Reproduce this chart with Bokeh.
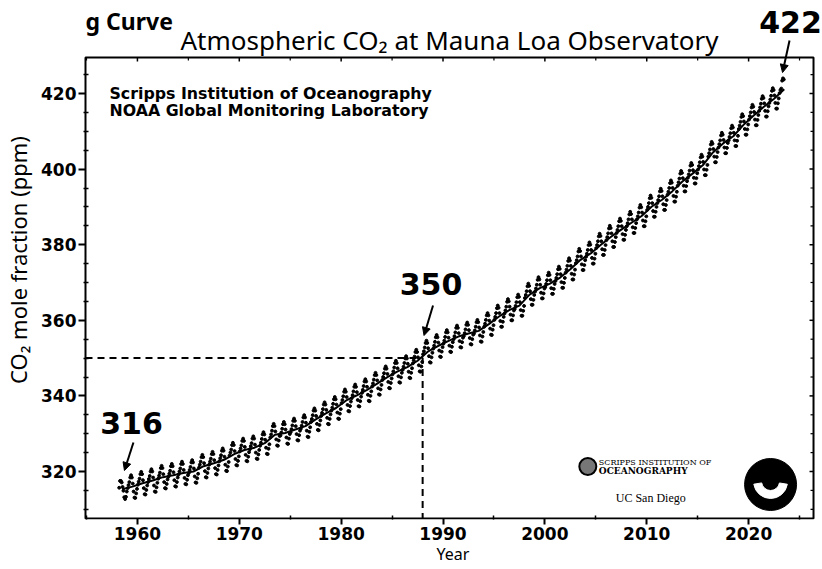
from bokeh.plotting import figure
from bokeh.models import (Range1d, Label, Arrow, NormalHead, FixedTicker)
from bokeh.embed import file_html
from bokeh.resources import INLINE

# ---------------- data (monthly mean CO2, ppm) ----------------
start_year = 1958
start_month = 3
co2_1950s = [315.7, 317.5, 317.5, 317.1, 315.9, 314.9, 313.2, 312.7, 313.3, 314.7,
             315.6, 316.4, 317.2, 318.4, 319.0, 318.4, 316.8, 314.7, 313.1, 313.0, 314.2, 315.4]
co2_1960s = [316.5, 317.3, 318.1, 319.3, 319.9, 319.3, 317.7, 315.6, 314.0, 313.9, 315.1, 316.3,
             317.2, 318.0, 318.8, 320.0, 320.6, 320.0, 318.4, 316.3, 314.7, 314.6, 315.8, 317.0,
             318.1, 318.9, 319.7, 320.9, 321.5, 320.9, 319.3, 317.2, 315.6, 315.5, 316.7, 317.9,
             318.6, 319.4, 320.2, 321.4, 322.0, 321.4, 319.8, 317.7, 316.1, 316.0, 317.2, 318.4,
             319.2, 320.0, 320.8, 322.0, 322.6, 322.0, 320.4, 318.3, 316.7, 316.6, 317.8, 319.0,
             319.6, 320.4, 321.2, 322.4, 323.0, 322.4, 320.8, 318.7, 317.1, 317.0, 318.2, 319.4,
             321.0, 321.8, 322.6, 323.8, 324.4, 323.8, 322.2, 320.1, 318.5, 318.4, 319.6, 320.8,
             321.8, 322.6, 323.4, 324.6, 325.2, 324.6, 323.0, 320.9, 319.3, 319.2, 320.4, 321.6,
             322.7, 323.5, 324.3, 325.5, 326.1, 325.5, 323.9, 321.8, 320.2, 320.1, 321.3, 322.5,
             324.2, 325.0, 325.8, 327.0, 327.6, 327.0, 325.4, 323.3, 321.7, 321.6, 322.8, 324.0]
co2_1970s = [325.3, 326.1, 326.9, 328.1, 328.7, 328.1, 326.5, 324.4, 322.8, 322.7, 323.9, 325.1,
             325.9, 326.7, 327.5, 328.7, 329.3, 328.7, 327.1, 325.0, 323.4, 323.3, 324.5, 325.7,
             326.8, 327.6, 328.6, 329.8, 330.4, 329.8, 328.4, 326.3, 324.7, 324.6, 326.0, 327.2,
             329.0, 329.8, 330.8, 332.0, 332.6, 332.0, 330.6, 328.5, 326.9, 326.8, 328.2, 329.4,
             329.5, 330.3, 331.3, 332.5, 333.1, 332.5, 331.1, 329.0, 327.4, 327.3, 328.7, 329.9,
             330.4, 331.2, 332.2, 333.4, 334.0, 333.4, 332.0, 329.9, 328.3, 328.2, 329.6, 330.8,
             331.3, 332.1, 333.1, 334.3, 334.9, 334.3, 332.9, 330.8, 329.2, 329.1, 330.5, 331.7,
             333.1, 333.9, 334.9, 336.1, 336.7, 336.1, 334.7, 332.6, 331.0, 330.9, 332.3, 333.5,
             334.7, 335.5, 336.5, 337.7, 338.3, 337.7, 336.3, 334.2, 332.6, 332.5, 333.9, 335.1,
             336.1, 336.9, 337.9, 339.1, 339.7, 339.1, 337.7, 335.6, 334.0, 333.9, 335.3, 336.5]
co2_1980s = [338.1, 338.9, 339.9, 341.1, 341.7, 341.1, 339.7, 337.6, 336.0, 335.9, 337.3, 338.5,
             339.4, 340.2, 341.2, 342.4, 343.0, 342.4, 341.0, 338.9, 337.3, 337.2, 338.6, 339.8,
             340.8, 341.6, 342.6, 343.8, 344.4, 343.8, 342.4, 340.3, 338.7, 338.6, 340.0, 341.2,
             342.5, 343.3, 344.3, 345.5, 346.1, 345.5, 344.1, 342.0, 340.4, 340.3, 341.7, 342.9,
             344.2, 345.0, 346.0, 347.2, 347.8, 347.2, 345.8, 343.7, 342.1, 342.0, 343.4, 344.6,
             345.7, 346.5, 347.5, 348.7, 349.3, 348.7, 347.3, 345.2, 343.6, 343.5, 344.9, 346.1,
             346.9, 347.7, 348.7, 349.9, 350.5, 349.9, 348.5, 346.4, 344.8, 344.7, 346.1, 347.3,
             348.6, 349.4, 350.4, 351.6, 352.2, 351.6, 350.2, 348.1, 346.5, 346.4, 347.8, 349.0,
             351.0, 351.8, 352.8, 354.0, 354.6, 354.0, 352.6, 350.5, 348.9, 348.8, 350.2, 351.4,
             352.5, 353.3, 354.3, 355.5, 356.1, 355.5, 354.1, 352.0, 350.4, 350.3, 351.7, 352.9]
co2_1990s = [353.8, 354.6, 355.6, 356.8, 357.4, 356.8, 355.4, 353.3, 351.7, 351.6, 353.0, 354.2,
             355.0, 355.8, 356.8, 358.0, 358.6, 358.0, 356.6, 354.5, 352.9, 352.8, 354.2, 355.4,
             355.8, 356.6, 357.6, 358.8, 359.4, 358.8, 357.4, 355.3, 353.7, 353.6, 355.0, 356.2,
             356.5, 357.3, 358.3, 359.5, 360.1, 359.5, 358.1, 356.0, 354.4, 354.3, 355.7, 356.9,
             358.3, 359.1, 360.1, 361.3, 361.9, 361.3, 359.9, 357.8, 356.2, 356.1, 357.5, 358.7,
             360.1, 360.9, 361.9, 363.2, 363.9, 363.3, 361.9, 359.8, 358.3, 358.3, 359.6, 360.9,
             361.8, 362.6, 363.6, 364.9, 365.6, 365.0, 363.6, 361.5, 360.0, 360.0, 361.3, 362.6,
             363.0, 363.8, 364.8, 366.1, 366.8, 366.2, 364.8, 362.7, 361.2, 361.2, 362.5, 363.8,
             365.9, 366.7, 367.7, 369.0, 369.7, 369.1, 367.7, 365.6, 364.1, 364.1, 365.4, 366.7,
             367.6, 368.4, 369.4, 370.7, 371.4, 370.8, 369.4, 367.3, 365.8, 365.8, 367.1, 368.4]
co2_2000s = [368.8, 369.6, 370.6, 371.9, 372.6, 372.0, 370.6, 368.5, 367.0, 367.0, 368.3, 369.6,
             370.4, 371.2, 372.2, 373.5, 374.2, 373.6, 372.2, 370.1, 368.6, 368.6, 369.9, 371.2,
             372.6, 373.4, 374.4, 375.7, 376.4, 375.8, 374.4, 372.3, 370.8, 370.8, 372.1, 373.4,
             375.1, 375.9, 376.9, 378.2, 378.9, 378.3, 376.9, 374.8, 373.3, 373.3, 374.6, 375.9,
             376.8, 377.6, 378.6, 379.9, 380.6, 380.0, 378.6, 376.5, 375.0, 375.0, 376.3, 377.6,
             379.1, 379.9, 380.9, 382.2, 382.9, 382.3, 380.9, 378.8, 377.3, 377.3, 378.6, 379.9,
             381.2, 382.0, 383.0, 384.3, 385.0, 384.4, 383.0, 380.9, 379.4, 379.4, 380.7, 382.0,
             383.1, 383.9, 384.9, 386.2, 386.9, 386.3, 384.9, 382.8, 381.3, 381.3, 382.6, 383.9,
             384.9, 385.7, 386.7, 388.0, 388.7, 388.1, 386.7, 384.6, 383.1, 383.1, 384.4, 385.7,
             386.7, 387.5, 388.5, 389.8, 390.5, 389.9, 388.5, 386.4, 384.9, 384.9, 386.2, 387.5]
co2_2010s = [389.2, 390.0, 391.0, 392.3, 393.0, 392.4, 391.0, 388.9, 387.4, 387.4, 388.7, 390.0,
             391.0, 391.8, 392.8, 394.1, 394.8, 394.2, 392.8, 390.7, 389.2, 389.2, 390.5, 391.8,
             393.2, 394.0, 395.0, 396.3, 397.0, 396.4, 395.0, 392.9, 391.4, 391.4, 392.7, 394.0,
             395.6, 396.5, 397.5, 398.8, 399.5, 399.0, 397.6, 395.6, 394.1, 394.1, 395.5, 396.8,
             397.7, 398.6, 399.6, 400.9, 401.6, 401.1, 399.7, 397.7, 396.2, 396.2, 397.6, 398.9,
             399.9, 400.8, 401.8, 403.1, 403.8, 403.3, 401.9, 399.9, 398.4, 398.4, 399.8, 401.1,
             403.3, 404.2, 405.2, 406.5, 407.2, 406.7, 405.3, 403.3, 401.8, 401.8, 403.2, 404.5,
             405.7, 406.6, 407.6, 408.9, 409.6, 409.1, 407.7, 405.7, 404.2, 404.2, 405.6, 406.9,
             407.6, 408.5, 409.5, 410.8, 411.5, 411.0, 409.6, 407.6, 406.1, 406.1, 407.5, 408.8,
             410.6, 411.5, 412.5, 413.8, 414.5, 414.0, 412.6, 410.6, 409.1, 409.1, 410.5, 411.8]
co2_2020s = [413.1, 414.0, 415.0, 416.3, 417.0, 416.5, 415.1, 413.1, 411.6, 411.6, 413.0, 414.3,
             415.4, 416.3, 417.3, 418.6, 419.3, 418.8, 417.4, 415.4, 413.9, 413.9, 415.3, 416.6,
             417.5, 418.4, 419.4, 420.7, 421.4, 420.9, 419.5, 417.5, 416.0, 416.0, 417.4, 418.7,
             420.1, 420.9, 421.3, 423.4, 424.0, 423.7]

# seasonally adjusted (annual mean) trend
trend_years = list(range(1958, 2024))
trend_ppm = [315.3, 316.0, 316.9, 317.6, 318.5, 319.0, 319.6, 320.0, 321.4, 322.2,
             323.1, 324.6, 325.7, 326.3, 327.5, 329.7, 330.2, 331.1, 332.0, 333.8,
             335.4, 336.8, 338.8, 340.1, 341.5, 343.2, 344.9, 346.4, 347.6, 349.3,
             351.7, 353.2, 354.5, 355.7, 356.5, 357.2, 359.0, 361.0, 362.7, 363.9,
             366.8, 368.5, 369.7, 371.3, 373.5, 376.0, 377.7, 380.0, 382.1, 384.0,
             385.8, 387.6, 390.1, 391.9, 394.1, 396.7, 398.8, 401.0, 404.4, 406.8,
             408.7, 411.7, 414.2, 416.5, 418.6, 421.1]

# highlighted values
hl_year = [1958, 1988, 2023]
hl_ppm = [316, 350, 422]
hl_text = ["316", "350", "422"]

# axis ticks
x_ticks = [1960, 1970, 1980, 1990, 2000, 2010, 2020]
x_minor = [1955, 1965, 1975, 1985, 1995, 2005, 2015, 2025]
y_ticks = [320, 340, 360, 380, 400, 420]
y_minor = [310, 315, 325, 330, 335, 345, 350, 355, 365, 370, 375, 385, 390, 395, 405, 410, 415, 425]

# ---------------- derived ----------------
monthly_ppm = co2_1950s + co2_1960s + co2_1970s + co2_1980s + co2_1990s + co2_2000s + co2_2010s + co2_2020s
monthly_t = [start_year + (start_month - 1 + i + 0.5) / 12 for i in range(len(monthly_ppm))]
trend_t = [y + 0.5 for y in trend_years]

# ---------------- figure layout ----------------
W, H = 822, 569
ML, MR, MT, MB = 82, 0, 0, 50
XF0, XF1 = 1954.706, 2027.255        # frame (whole canvas right of / above the axes)
YF0, YF1 = 307.302, 444.603
BOX_L, BOX_R = 1954.902, 2026.373    # the drawn plot box
BOX_B, BOX_T = 307.566, 429.524
FW, FH = W - ML - MR, H - MT - MB
PPX = FW / (XF1 - XF0)
PPY = FH / (YF1 - YF0)


def px_x(px):  # canvas pixel -> data x
    return XF0 + (px - ML) / PPX


def px_y(py):  # canvas pixel -> data y
    return YF1 - (py - MT) / PPY


p = figure(width=W, height=H, output_backend="svg", toolbar_location=None,
           x_range=Range1d(XF0, XF1), y_range=Range1d(YF0, YF1),
           min_border_left=ML, min_border_right=MR, min_border_top=MT, min_border_bottom=MB,
           background_fill_color="white", border_fill_color="white")
p.xgrid.visible = False
p.ygrid.visible = False
p.outline_line_color = None

p.xaxis.ticker = FixedTicker(ticks=x_ticks, minor_ticks=x_minor)
p.yaxis.ticker = FixedTicker(ticks=y_ticks, minor_ticks=y_minor)
for ax in p.xaxis + p.yaxis:
    ax.axis_line_color = None
    ax.major_tick_line_width = 2
    ax.major_tick_line_color = "black"
    ax.major_tick_out = 5
    ax.minor_tick_out = 0
    ax.minor_tick_line_width = 1.5
    ax.minor_tick_line_color = "black"
    ax.major_label_text_font = "DejaVu Sans"
    ax.major_label_text_font_style = "bold"
    ax.major_label_text_font_size = "17px"
    ax.major_label_text_color = "black"
    ax.axis_label_text_font = "Noto Sans"
    ax.axis_label_text_font_style = "normal"
    ax.axis_label_text_color = "black"
    ax.major_label_standoff = 2
p.yaxis.major_tick_in = 2
p.yaxis.minor_tick_in = 5
p.xaxis.major_tick_in = 1
p.xaxis.minor_tick_in = 4
p.xaxis.axis_label = "Year"
p.xaxis.axis_label_text_font_size = "16px"
p.xaxis.axis_label_standoff = 0
p.yaxis.axis_label = "CO₂ mole fraction (ppm)"
p.yaxis.axis_label_text_font_size = "22px"
p.yaxis.axis_label_standoff = 5

# plot box
p.quad(left=[BOX_L], right=[BOX_R], bottom=[BOX_B], top=[BOX_T],
       fill_color=None, line_color="black", line_width=2)

# inward ticks on the top and right sides of the box, at the axis tick values
TICK_MAJ, TICK_MIN = 4, 3  # px
p.segment(x0=x_ticks, y0=[BOX_T] * len(x_ticks), x1=x_ticks,
          y1=[BOX_T - TICK_MAJ / PPY] * len(x_ticks), line_color="black", line_width=1.5)
p.segment(x0=x_minor, y0=[BOX_T] * len(x_minor), x1=x_minor,
          y1=[BOX_T - TICK_MIN / PPY] * len(x_minor), line_color="black", line_width=1.2)
p.segment(x0=[BOX_R] * len(y_ticks), y0=y_ticks, x1=[BOX_R - TICK_MAJ / PPX] * len(y_ticks),
          y1=y_ticks, line_color="black", line_width=1.5)
p.segment(x0=[BOX_R] * len(y_minor), y0=y_minor, x1=[BOX_R - TICK_MIN / PPX] * len(y_minor),
          y1=y_minor, line_color="black", line_width=1.2)

# reference dashed lines at (1988, 350)
p.line([BOX_L, hl_year[1], hl_year[1]], [hl_ppm[1], hl_ppm[1], BOX_B],
       line_color="black", line_width=2, line_dash="7 5")

# monthly data and trend
p.scatter(monthly_t, monthly_ppm, size=2.9, color="black")
p.line(trend_t, trend_ppm, line_color="black", line_width=2)

# highlight labels and arrows (offsets in screen px)
lab_off = [(14.4, 64.1), (8.4, 74.6), (11.4, 64.4)]
arr_start = [(16.4, 44.1), (10.4, 52.6), (10.4, 45.4)]
arr_end = [(7.4, 16.1), (1.4, 22.6), (3.4, 13.4)]
for i in range(3):
    p.add_layout(Label(x=hl_year[i], y=hl_ppm[i], x_offset=lab_off[i][0], y_offset=lab_off[i][1],
                       text=hl_text[i], text_font="DejaVu Sans", text_font_style="bold",
                       text_font_size="30px", text_align="center", text_baseline="middle",
                       text_color="black"))
    p.add_layout(Arrow(end=NormalHead(size=8, fill_color="black", line_color="black"),
                       x_start=hl_year[i] + arr_start[i][0] / PPX, y_start=hl_ppm[i] + arr_start[i][1] / PPY,
                       x_end=hl_year[i] + arr_end[i][0] / PPX, y_end=hl_ppm[i] + arr_end[i][1] / PPY,
                       line_color="black", line_width=2))

# title & heading
p.add_layout(Label(x=(BOX_L + BOX_R) / 2, y=px_y(39), text="Atmospheric CO₂ at Mauna Loa Observatory",
                   text_font="Noto Sans", text_font_size="26px", text_align="center",
                   text_baseline="middle", text_color="black"))
p.add_layout(Label(x=px_x(84), y=px_y(20), text="g Curve", text_font="Noto Sans",
                   text_font_style="bold", text_font_size="23px", text_align="left",
                   text_baseline="alphabetic", text_color="black"))

# source text
for txt, py in (("Scripps Institution of Oceanography", 93), ("NOAA Global Monitoring Laboratory", 110)):
    p.add_layout(Label(x=px_x(108), y=px_y(py), text=txt, text_font="DejaVu Sans",
                       text_font_style="bold", text_font_size="15.8px", text_align="left",
                       text_baseline="middle", text_color="black"))

# logos (decoration)
p.scatter([px_x(587)], [px_y(466)], size=17, fill_color="#777777", line_color="black", line_width=2)
p.add_layout(Label(x=px_x(598), y=px_y(462), text="SCRIPPS INSTITUTION OF", text_font="DejaVu Serif",
                   text_font_size="8px", text_baseline="middle", text_color="black"))
p.add_layout(Label(x=px_x(598), y=px_y(470), text="OCEANOGRAPHY", text_font="DejaVu Serif",
                   text_font_style="bold", text_font_size="9px", text_baseline="middle", text_color="black"))
p.add_layout(Label(x=px_x(650), y=px_y(497), text="UC San Diego", text_font="Liberation Serif",
                   text_font_size="12px", text_align="center", text_baseline="middle", text_color="black"))
p.scatter([px_x(770)], [px_y(484)], size=52, color="black")
p.annular_wedge([px_x(770)], [px_y(481)], inner_radius=9, outer_radius=17,
                inner_radius_units="screen", outer_radius_units="screen",
                start_angle=3.3, end_angle=6.12, color="white")

open("out.html", "w").write(file_html(p, INLINE))
